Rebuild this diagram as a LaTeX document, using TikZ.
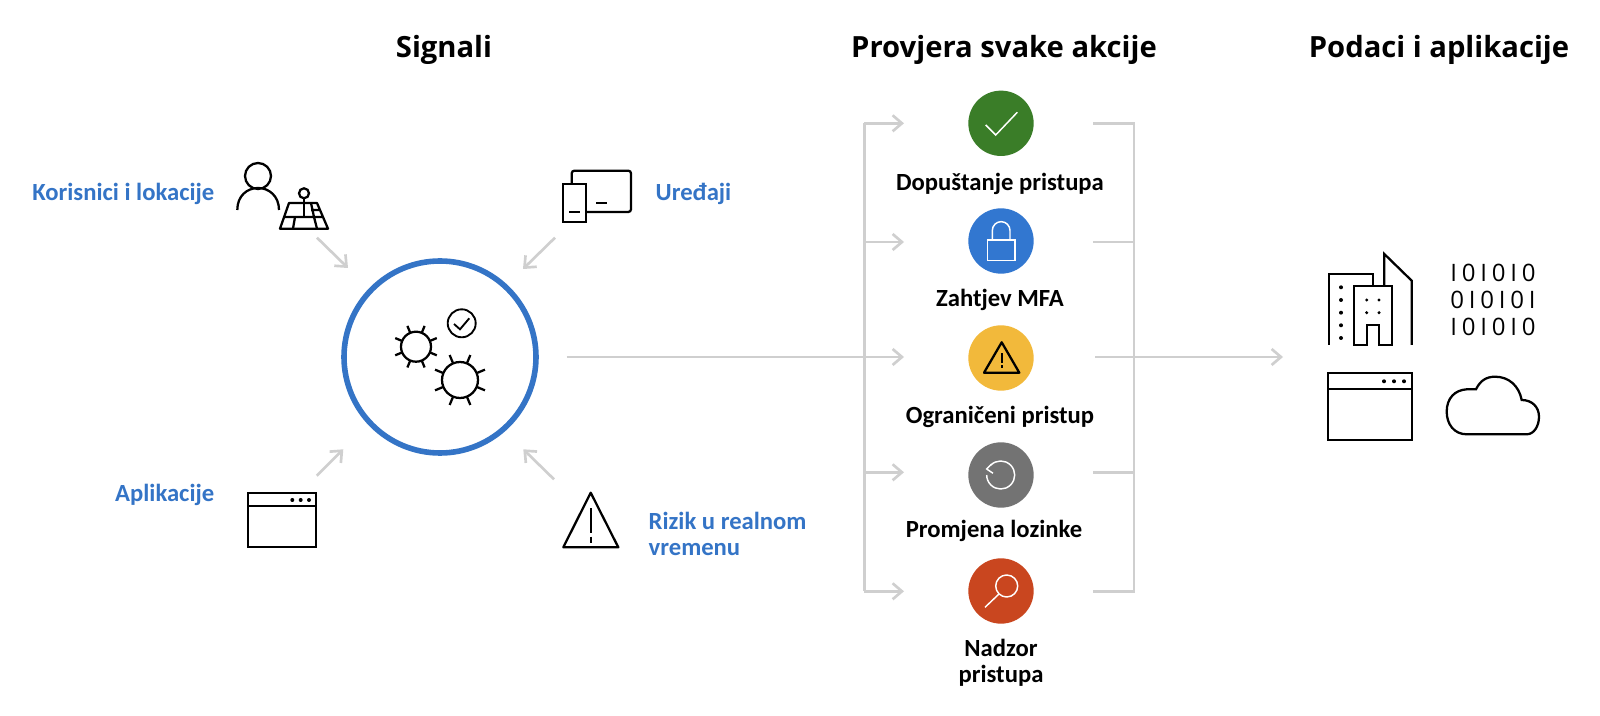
\documentclass[tikz,border=0pt]{standalone}
\usepackage{fontspec}
\setmainfont{Open Sans}
\newfontfamily\semifont{Carlito}
\newfontfamily\binfont{Open Sans}[LetterSpace=20]
\usetikzlibrary{arrows.meta}
\definecolor{hubblue}{HTML}{3474C6}
\definecolor{linegray}{HTML}{CFCFCF}
\tikzset{
  headlabel/.style={font=\bfseries\fontsize{21.9}{26}\selectfont},
  signallabel/.style={text=hubblue,font=\semifont\bfseries\fontsize{18.5}{19.5}\selectfont,align=left},
  actionlabel/.style={font=\semifont\bfseries\fontsize{18.5}{19.5}\selectfont,align=center},
  actiondot/.style={circle,minimum size=49pt,inner sep=0pt},
  pipe/.style={draw=linegray,line width=2pt},
  pipearrow/.style={pipe,-{Straight Barb[length=7pt,width=12pt]}},
  iconline/.style={line width=1.7pt,black},
  iconwhite/.style={line width=1.1pt,white},
}
\begin{document}
\begin{tikzpicture}[x=0.75pt,y=-0.75pt]
\useasboundingbox (0,0) rectangle (1600,716);
% titles
\node[headlabel] (titleA) at (444,50) {Signali};
\node[headlabel] (titleB) at (1004,50) {Provjera svake akcije};
\node[headlabel] (titleC) at (1439,50) {Podaci i aplikacije};
% hub
\node[circle,draw=hubblue,line width=4.2pt,minimum size=144pt,inner sep=0pt] (hub) at (440,357) {};
\draw[iconline] (416,346.7) circle (15);
\draw[iconline] (460,380) circle (18);
\foreach \a in {22.5,67.5,...,337.5} {
  \draw[iconline] (416,346.7) ++(\a:15) -- ++(\a:7.5);
  \draw[iconline] (460,380) ++(\a:18) -- ++(\a:9);
}
\draw[line width=1.4pt] (461.7,323.3) circle (14);
\draw[line width=1.4pt] (454,324) -- (460,329.3) -- (469.3,318.3);
% user and map
\node[signallabel,anchor=east] (lblUser) at (219,194) {Korisnici i lokacije};
\draw[iconline] (258,176) circle (13);
\draw[iconline] (237.3,210) .. controls (237.3,196) and (247,188) .. (258,188) .. controls (269,188) and (279,196) .. (279,210);
\draw[iconline] (304,193.3) circle (5);
\draw[iconline] (304,198.3) -- (304,217);
\draw[iconline,line join=round] (280,228.7) -- (289,203) -- (317,203) -- (328,228.7) -- cycle;
\draw[iconline] (285,217) -- (323,217) (295,217) -- (293,228.7) (314,217) -- (317,228.7) (311,210) -- (320,210) (311,203) -- (314,217);
% devices
\node[signallabel,anchor=west] (lblDevice) at (651,194) {Uređaji};
\draw[iconline] (562.7,184.3) rectangle (586,221.7);
\draw[iconline,rounded corners=2pt] (571.7,184.3) -- (571.7,170.7) -- (631,170.7) -- (631,212) -- (586,212);
\draw[iconline] (569,212) -- (580,212) (596,202.7) -- (607,202.7);
% apps
\node[signallabel,anchor=east] (lblApps) at (219,495) {Aplikacije};
\draw[iconline] (248.3,492.7) rectangle (316,546.7);
\draw[iconline] (248.3,506) -- (316,506);
\foreach \x in {292.3,300.7,309} \fill (\x,500) circle (2);
% risk
\node[signallabel,anchor=west] (lblRisk) at (644,534) {Rizik u realnom\\vremenu};
\draw[iconline,line join=round] (590.7,492.7) -- (618.3,547.3) -- (563.3,547.3) -- cycle;
\draw[iconline] (590.7,508.3) -- (590.7,533.3) (590.7,536.7) -- (590.7,542.7);
% arrows into hub
\coordinate (inUserA) at (317,237.7);
\coordinate (inUserB) at (348,268);
\coordinate (inDevA) at (555,237.7);
\coordinate (inDevB) at (523,269);
\coordinate (inAppA) at (316.7,475.7);
\coordinate (inAppB) at (343.3,449.3);
\coordinate (inRiskA) at (554,479.3);
\coordinate (inRiskB) at (523.3,449.3);
\draw[pipearrow] (inUserA) -- (inUserB);
\draw[pipearrow] (inDevA) -- (inDevB);
\draw[pipearrow] (inAppA) -- (inAppB);
\draw[pipearrow] (inRiskA) -- (inRiskB);
% actions
\node[actiondot,fill={rgb,255:red,58;green,125;blue,40}] (dotAllow) at (1001,123.3) {};
\node[actiondot,fill={rgb,255:red,50;green,119;blue,208}] (dotMfa) at (1001,241) {};
\node[actiondot,fill={rgb,255:red,242;green,185;blue,59}] (dotLimit) at (1001,358) {};
\node[actiondot,fill={rgb,255:red,115;green,115;blue,115}] (dotReset) at (1001,475) {};
\node[actiondot,fill={rgb,255:red,201;green,70;blue,31}] (dotAudit) at (1001,591) {};
\node[actionlabel] (lblAllow) at (1000,184) {Dopuštanje pristupa};
\node[actionlabel] (lblMfa) at (1000,300) {Zahtjev MFA};
\node[actionlabel] (lblLimit) at (1000,417) {Ograničeni pristup};
\node[actionlabel] (lblReset) at (994,531) {Promjena lozinke};
\node[actionlabel] (lblAudit) at (1001,663) {Nadzor\\pristupa};
% action glyphs
\draw[iconwhite] (985.7,125) -- (995.7,135) -- (1017.3,112.3);
\draw[iconwhite] (987.3,240) rectangle (1015,260.7);
\draw[iconwhite] (992.3,240) -- (992.3,230.5) arc (180:360:8.85) -- (1010,240);
\draw[iconline,line join=round] (1001.7,342.3) -- (1019.3,372.7) -- (984,372.7) -- cycle;
\draw[iconline] (1001.7,353.3) -- (1001.7,362.7) (1001.7,365.5) -- (1001.7,368);
\draw[iconwhite] (990.8,465.1) arc (-135:180:14);
\draw[iconwhite] (991.7,464) -- (986.7,469) -- (993,473.3);
\draw[iconwhite] (1006.7,586) circle (11);
\draw[iconwhite] (999,594) -- (985,607.3);
% pipes
\coordinate (busTop) at (864.3,123.3);
\coordinate (busBot) at (864.3,591.3);
\coordinate (busFeed) at (566.7,357);
\coordinate (tipAllow) at (904,123.3);
\coordinate (tipMfa) at (904,242);
\coordinate (tipLimit) at (904,357);
\coordinate (tipReset) at (904,472.3);
\coordinate (tipAudit) at (904,591.3);
\draw[pipearrow] (tipAllow -| busTop) -- (tipAllow);
\draw[pipe] (busTop) -- (busBot);
\draw[pipearrow] (tipMfa -| busTop) -- (tipMfa);
\draw[pipearrow] (busFeed) -- (tipLimit);
\draw[pipearrow] (tipReset -| busTop) -- (tipReset);
\draw[pipearrow] (tipAudit -| busTop) -- (tipAudit);
\coordinate (outTop) at (1093.3,123.3);
\coordinate (outBot) at (1093.3,591.3);
\coordinate (outMfa) at (1093.3,242);
\coordinate (outLimit) at (1095,357);
\coordinate (outReset) at (1093.3,472.3);
\coordinate (outTip) at (1283,357);
\draw[pipe] (outTop) -- (1134,123.3) -- (1134,591.3) -- (outBot);
\draw[pipe] (outMfa) -- (1134,242);
\draw[pipe] (outReset) -- (1134,472.3);
\draw[pipearrow] (outLimit) -- (outTip);
% data and apps icons
\draw[iconline] (1329,345) -- (1329,274.3) -- (1373.3,274.3) -- (1373.3,286);
\draw[iconline] (1354.3,345) -- (1354.3,286) -- (1391.7,286) -- (1391.7,345) -- (1379.3,345) -- (1379.3,325) -- (1366.7,325) -- (1366.7,345) -- cycle;
\draw[iconline] (1384.3,286) -- (1384.3,254) -- (1411.7,280.7) -- (1411.7,345);
\foreach \y in {287.3,300,312.7,325.3,338} \fill (1341,\y) circle (2);
\foreach \y in {300,312.7} { \fill (1366.7,\y) circle (1.7); \fill (1379,\y) circle (1.7); }
\node[font=\binfont\fontsize{18}{20}\selectfont] (binA) at (1493,273.3) {I0I0I0};
\node[font=\binfont\fontsize{18}{20}\selectfont] (binB) at (1493,300) {0I0I0I};
\node[font=\binfont\fontsize{18}{20}\selectfont] (binC) at (1493,326.7) {I0I0I0};
\draw[iconline] (1328.3,372.7) rectangle (1412.3,440);
\draw[iconline] (1328.3,389.3) -- (1412.3,389.3);
\foreach \x in {1384,1394,1404} \fill (\x,381.3) circle (2);
\draw[iconline] (1466.7,434.3) .. controls (1454,434.3) and (1446.7,424) .. (1446.7,411.7) .. controls (1446.7,398) and (1455,390) .. (1466.7,389.3) -- (1476,389.3) .. controls (1480,381) and (1486,376.7) .. (1495,376.7) .. controls (1509,376.7) and (1519,386) .. (1521.7,400) .. controls (1532,400) and (1539,407) .. (1539,416.7) .. controls (1539,426) and (1534,434.3) .. (1526.7,434.3) -- cycle;
\end{tikzpicture}
\end{document}
